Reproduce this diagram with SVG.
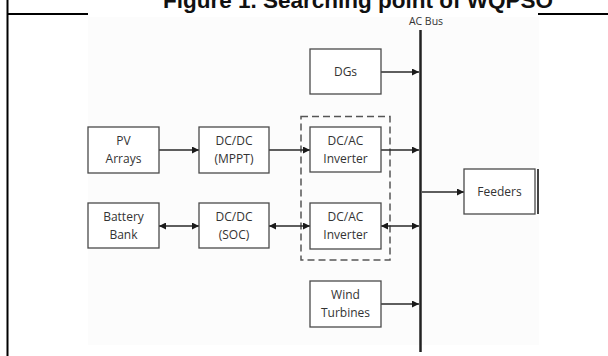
<svg xmlns="http://www.w3.org/2000/svg" width="608" height="356" viewBox="0 0 608 356">
<defs>
<style>
.box{fill:#fff;stroke:#4a4a4a;stroke-width:1.3}
.lbl{font-family:"Open Sans","Liberation Sans",sans-serif;font-size:12px;fill:#333;text-anchor:middle}
.con{stroke:#2a2a2a;stroke-width:1.3;fill:none}
.frame{stroke:#000;stroke-width:2;fill:none}
</style>
<marker id="ah" viewBox="0 0 10 10" refX="10" refY="5" markerWidth="7" markerHeight="7" markerUnits="userSpaceOnUse" orient="auto-start-reverse">
<path d="M0,0 L10,5 L0,10 z" fill="#1a1a1a"/>
</marker>
</defs>
<rect x="0" y="0" width="608" height="356" fill="#fff"/>
<rect x="88" y="17" width="451" height="328" fill="#fcfcfc"/>
<g id="frame">
<line class="frame" x1="7.5" y1="0" x2="7.5" y2="356"/>
<line class="frame" x1="7" y1="14" x2="88" y2="14"/>
<line class="frame" x1="538" y1="14" x2="608" y2="14"/>
<text x="358" y="8" font-family="Liberation Sans, Arial, sans-serif" font-size="22.5" font-weight="bold" fill="#111" text-anchor="middle">Figure 1. Searching point of WQPSO</text>
</g>
<g id="bus">
<line x1="420.5" y1="30" x2="420.5" y2="352" stroke="#222" stroke-width="2.5"/>
<text x="426" y="25" font-family="Open Sans, Liberation Sans, sans-serif" font-size="10.5" fill="#333" text-anchor="middle">AC Bus</text>
</g>
<g id="group-dashed">
<rect x="301" y="116.5" width="89" height="143.5" fill="none" stroke="#555" stroke-width="1.5" stroke-dasharray="7,4"/>
</g>
<g id="connectors">
<line class="con" x1="159" y1="150" x2="199" y2="150" marker-end="url(#ah)"/>
<line class="con" x1="269" y1="150" x2="310" y2="150" marker-end="url(#ah)"/>
<line class="con" x1="381" y1="150" x2="419" y2="150" marker-end="url(#ah)"/>
<line class="con" x1="381" y1="72" x2="419" y2="72" marker-end="url(#ah)"/>
<line class="con" x1="159" y1="226" x2="199" y2="226" marker-start="url(#ah)" marker-end="url(#ah)"/>
<line class="con" x1="269" y1="226" x2="310" y2="226" marker-start="url(#ah)" marker-end="url(#ah)"/>
<line class="con" x1="381" y1="226" x2="419" y2="226" marker-start="url(#ah)" marker-end="url(#ah)"/>
<line class="con" x1="381" y1="304" x2="419" y2="304" marker-end="url(#ah)"/>
<line class="con" x1="422" y1="192" x2="464" y2="192" marker-end="url(#ah)"/>
</g>
<g id="pv">
<rect class="box" x="88" y="127" width="71" height="46"/>
<text class="lbl" x="123.5" y="145">PV</text>
<text class="lbl" x="123.5" y="163">Arrays</text>
</g>
<g id="dcdc-mppt">
<rect class="box" x="199" y="127" width="70" height="46"/>
<text class="lbl" x="234" y="145">DC/DC</text>
<text class="lbl" x="234" y="163">(MPPT)</text>
</g>
<g id="inverter1">
<rect class="box" x="310" y="127" width="71" height="45"/>
<text class="lbl" x="345.5" y="145">DC/AC</text>
<text class="lbl" x="345.5" y="163">Inverter</text>
</g>
<g id="dgs">
<rect class="box" x="310" y="49" width="71" height="45"/>
<text class="lbl" x="345.5" y="76">DGs</text>
</g>
<g id="battery">
<rect class="box" x="88" y="203" width="71" height="45"/>
<text class="lbl" x="123.5" y="221">Battery</text>
<text class="lbl" x="123.5" y="239">Bank</text>
</g>
<g id="dcdc-soc">
<rect class="box" x="199" y="203" width="70" height="45"/>
<text class="lbl" x="234" y="221">DC/DC</text>
<text class="lbl" x="234" y="239">(SOC)</text>
</g>
<g id="inverter2">
<rect class="box" x="310" y="203" width="71" height="46"/>
<text class="lbl" x="345.5" y="221">DC/AC</text>
<text class="lbl" x="345.5" y="239">Inverter</text>
</g>
<g id="wind">
<rect class="box" x="310" y="281" width="71" height="46"/>
<text class="lbl" x="345.5" y="299">Wind</text>
<text class="lbl" x="345.5" y="317">Turbines</text>
</g>
<g id="feeders">
<rect class="box" x="464" y="169" width="71" height="45"/>
<text class="lbl" x="499.5" y="196">Feeders</text>
<line x1="538" y1="169" x2="538" y2="214" stroke="#444" stroke-width="2"/>
</g>
</svg>
